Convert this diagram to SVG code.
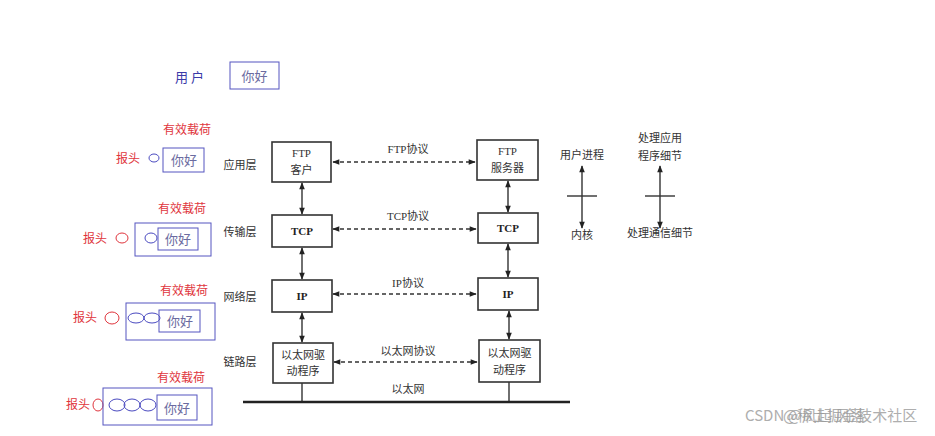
<svg xmlns="http://www.w3.org/2000/svg" width="935" height="436" viewBox="0 0 935 436">
<style>
.bg{fill:#ffffff}
.lbl{font-family:"Noto Sans CJK SC","Liberation Serif",serif;font-size:11px;fill:#333;text-anchor:middle}
.box{fill:#fff;stroke:#333;stroke-width:1.6}
.bt{font-family:"Liberation Serif","Noto Sans CJK SC",serif;font-size:11px;fill:#333;text-anchor:middle}
.btb{font-family:"Liberation Serif","Noto Sans CJK SC",serif;font-size:11px;font-weight:bold;fill:#222;text-anchor:middle}
.dash{stroke:#333;stroke-width:1.3;stroke-dasharray:4,3;fill:none}
.solid{stroke:#333;stroke-width:1.4;fill:none}
.red{font-family:"Noto Sans CJK SC",sans-serif;font-size:12px;fill:#e0353d}
.blue{font-family:"Noto Sans CJK SC",sans-serif;font-size:13px;fill:#3a3aa8}
.nh{font-family:"Noto Sans CJK SC",sans-serif;font-size:13px;fill:#6b6ba0;text-anchor:middle}
.bbox{fill:none;stroke:#5555c0;stroke-width:1}
.bell{fill:none;stroke:#4a4ac0;stroke-width:1}
.rell{fill:none;stroke:#e0353d;stroke-width:1}
.wm{font-family:"Noto Sans CJK SC",sans-serif;font-size:15px;fill:#9a9a9a;opacity:0.8}
</style>
<defs>
<marker id="ah" viewBox="0 0 10 10" refX="9" refY="5" markerWidth="8" markerHeight="7" orient="auto-start-reverse" markerUnits="userSpaceOnUse">
<path d="M0,1 L10,5 L0,9 z" fill="#222"/>
</marker>
</defs>
<rect class="bg" x="0" y="0" width="935" height="436"/>

<g id="user">
<text class="blue" x="175" y="82">用 户</text>
<rect class="bbox" x="230" y="62" width="49" height="27"/>
<text class="nh" x="254.500" y="81">你好</text>
</g>

<g id="encap-app">
<text class="red" x="163" y="134">有效载荷</text>
<text class="red" x="116" y="163">报头</text>
<ellipse class="bell" cx="154" cy="158" rx="5" ry="4"/>
<rect class="bbox" x="163" y="148" width="41" height="24"/>
<text class="nh" x="184" y="165">你好</text>
</g>

<g id="encap-tcp">
<text class="red" x="158" y="213">有效载荷</text>
<text class="red" x="83" y="243">报头</text>
<ellipse class="rell" cx="122" cy="238" rx="6" ry="5"/>
<rect class="bbox" x="135" y="223" width="76" height="33"/>
<ellipse class="bell" cx="151" cy="238" rx="6" ry="5"/>
<rect class="bbox" x="158" y="228" width="40" height="22"/>
<text class="nh" x="178" y="244">你好</text>
</g>

<g id="encap-ip">
<text class="red" x="160" y="295">有效载荷</text>
<text class="red" x="73" y="322">报头</text>
<ellipse class="rell" cx="112" cy="318" rx="7" ry="6"/>
<rect class="bbox" x="126" y="303" width="89" height="37"/>
<ellipse class="bell" cx="136" cy="318" rx="8" ry="5"/>
<ellipse class="bell" cx="152" cy="318" rx="8" ry="5"/>
<rect class="bbox" x="159" y="310" width="41" height="22"/>
<text class="nh" x="180" y="326">你好</text>
</g>

<g id="encap-link">
<text class="red" x="157" y="382">有效载荷</text>
<text class="red" x="66" y="409">报头</text>
<ellipse class="rell" cx="98" cy="405" rx="5" ry="6"/>
<rect class="bbox" x="103" y="388" width="109" height="37"/>
<ellipse class="bell" cx="117" cy="405" rx="8" ry="6"/>
<ellipse class="bell" cx="132" cy="405" rx="8" ry="6"/>
<ellipse class="bell" cx="148" cy="405" rx="8" ry="6"/>
<rect class="bbox" x="157" y="395" width="40" height="25"/>
<text class="nh" x="177" y="413">你好</text>
</g>

<g id="layer-labels">
<text class="lbl" x="240" y="169">应用层</text>
<text class="lbl" x="240" y="236">传输层</text>
<text class="lbl" x="240" y="301">网络层</text>
<text class="lbl" x="240" y="366">链路层</text>
</g>

<g id="ftp-client">
<rect class="box" x="272" y="142" width="59" height="40"/>
<text class="bt" x="301.500" y="157">FTP</text>
<text class="bt" x="301.500" y="174">客户</text>
</g>
<g id="tcp-client">
<rect class="box" x="272" y="215" width="60" height="32"/>
<text class="btb" x="302" y="235">TCP</text>
</g>
<g id="ip-client">
<rect class="box" x="272" y="280" width="60" height="32"/>
<text class="btb" x="302" y="300">IP</text>
</g>
<g id="eth-client">
<rect class="box" x="273" y="343" width="60" height="40"/>
<text class="bt" x="303" y="359">以太网驱</text>
<text class="bt" x="303" y="375">动程序</text>
</g>

<g id="ftp-server">
<rect class="box" x="477" y="140" width="61" height="40"/>
<text class="bt" x="507.500" y="155">FTP</text>
<text class="bt" x="507.500" y="172">服务器</text>
</g>
<g id="tcp-server">
<rect class="box" x="478" y="213" width="60" height="30"/>
<text class="btb" x="508" y="232">TCP</text>
</g>
<g id="ip-server">
<rect class="box" x="478" y="278" width="60" height="32"/>
<text class="btb" x="508" y="298">IP</text>
</g>
<g id="eth-server">
<rect class="box" x="479" y="340" width="61" height="42"/>
<text class="bt" x="509.500" y="357">以太网驱</text>
<text class="bt" x="509.500" y="374">动程序</text>
</g>

<g id="connectors">
<line class="dash" x1="333" y1="162" x2="475" y2="162" marker-start="url(#ah)" marker-end="url(#ah)"/>
<line class="dash" x1="333" y1="229" x2="476" y2="229" marker-start="url(#ah)" marker-end="url(#ah)"/>
<line class="dash" x1="333" y1="294" x2="476" y2="294" marker-start="url(#ah)" marker-end="url(#ah)"/>
<line class="dash" x1="334" y1="362" x2="477" y2="362" marker-start="url(#ah)" marker-end="url(#ah)"/>
<line class="solid" x1="302" y1="183" x2="302" y2="214" marker-start="url(#ah)" marker-end="url(#ah)"/>
<line class="solid" x1="302" y1="248" x2="302" y2="279" marker-start="url(#ah)" marker-end="url(#ah)"/>
<line class="solid" x1="302" y1="313" x2="302" y2="342" marker-start="url(#ah)" marker-end="url(#ah)"/>
<line class="solid" x1="508" y1="181" x2="508" y2="212" marker-start="url(#ah)" marker-end="url(#ah)"/>
<line class="solid" x1="508" y1="244" x2="508" y2="277" marker-start="url(#ah)" marker-end="url(#ah)"/>
<line class="solid" x1="509" y1="311" x2="509" y2="339" marker-start="url(#ah)" marker-end="url(#ah)"/>
<line class="solid" x1="302" y1="383" x2="302" y2="402"/>
<line class="solid" x1="509" y1="382" x2="509" y2="402"/>
<line x1="243" y1="402" x2="570" y2="402" stroke="#222" stroke-width="2.5"/>
<text class="bt" x="408" y="153">FTP协议</text>
<text class="bt" x="408" y="220">TCP协议</text>
<text class="bt" x="408" y="287">IP协议</text>
<text class="bt" x="408" y="355">以太网协议</text>
<text class="bt" x="408" y="393">以太网</text>
</g>

<g id="legend-user">
<text class="lbl" x="582" y="159">用户进程</text>
<line class="solid" x1="582" y1="166" x2="582" y2="228" marker-start="url(#ah)" marker-end="url(#ah)"/>
<line class="solid" x1="567" y1="196" x2="597" y2="196"/>
<text class="lbl" x="582" y="239">内核</text>
</g>
<g id="legend-app">
<text class="lbl" x="660" y="142">处理应用</text>
<text class="lbl" x="660" y="160">程序细节</text>
<line class="solid" x1="660" y1="166" x2="660" y2="228" marker-start="url(#ah)" marker-end="url(#ah)"/>
<line class="solid" x1="645" y1="196" x2="675" y2="196"/>
<text class="lbl" x="660" y="237">处理通信细节</text>
</g>

<g id="watermark">
<text class="wm" x="745" y="421">CSDN @风起 风落</text>
<text class="wm" x="783" y="421" opacity="0.5">@稀土掘金技术社区</text>
</g>
</svg>
